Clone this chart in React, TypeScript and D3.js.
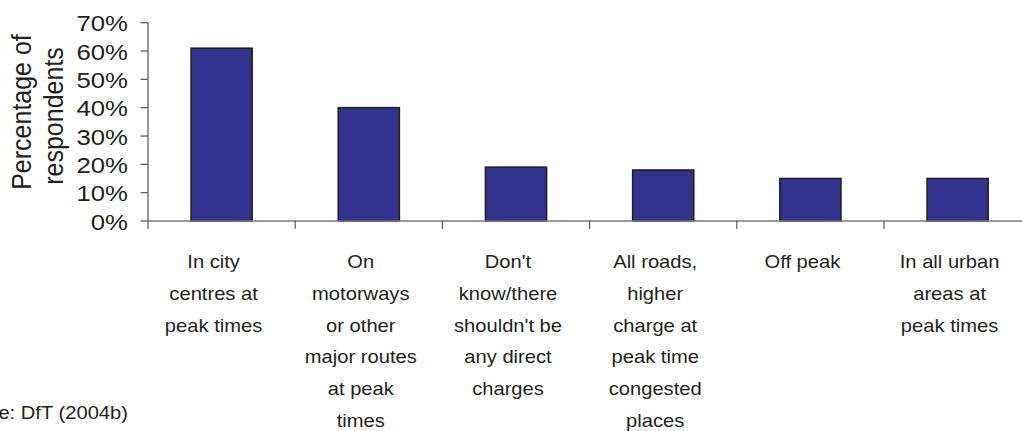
import React from "react";
import * as d3 from "d3";

const categories: string[][] = [
  ["In city", "centres at", "peak times"],
  ["On", "motorways", "or other", "major routes", "at peak", "times"],
  ["Don't", "know/there", "shouldn't be", "any direct", "charges"],
  ["All roads,", "higher", "charge at", "peak time", "congested", "places"],
  ["Off peak"],
  ["In all urban", "areas at", "peak times"],
];
const values: number[] = [0.61, 0.40, 0.19, 0.18, 0.15, 0.15];
const yTicks: number[] = [0, 0.1, 0.2, 0.3, 0.4, 0.5, 0.6, 0.7];
const yTitle: string[] = ["Percentage of", "respondents"];
const sourceText = "Source: DfT (2004b)";

const W = 1022;
const H = 431;
const SX = 1.12;
const FONT = "'Liberation Sans', Arial, Helvetica, sans-serif";
const TEXT = "#231f20";

export default function App() {
  const x0 = 148;
  const step = 147.2;
  const ids = categories.map((_, i) => String(i));
  const x = d3
    .scaleBand<string>()
    .domain(ids)
    .range([x0, x0 + step * ids.length])
    .paddingInner(0.585)
    .paddingOuter(0.2925);
  const y = d3.scaleLinear().domain([0, 0.7]).range([221, 22.7]);
  const fmt = d3.format(".0%");
  const y0 = y(0);

  return (
    <svg
      width={W}
      height={H}
      style={{ position: "absolute", left: 0, top: 0, display: "block", background: "#fff" }}
      fontFamily={FONT}
    >
      {/* bars */}
      {values.map((v, i) => (
        <rect
          key={i}
          x={x(ids[i])!}
          y={y(v)}
          width={x.bandwidth()}
          height={y0 - y(v)}
          fill="#31338f"
          stroke="#231f20"
          strokeWidth={1.6}
        />
      ))}
      {/* x axis */}
      <line x1={x0} x2={W} y1={y0} y2={y0} stroke="#7a7a7a" strokeWidth={1.3} />
      {ids.map((id, i) => {
        const xx = x0 + i * x.step();
        return <line key={i} x1={xx} x2={xx} y1={y0} y2={y0 + 8} stroke="#555" strokeWidth={1.2} />;
      })}
      {/* y axis */}
      <line x1={x0} x2={x0} y1={y(0.7)} y2={y0} stroke="#555" strokeWidth={1.2} />
      {yTicks.map((t, i) => (
        <g key={i}>
          <line x1={x0 - 7.5} x2={x0} y1={y(t)} y2={y(t)} stroke="#555" strokeWidth={1.2} />
          <text
            transform={`translate(128,${y(t) + 8.5}) scale(${SX},1)`}
            textAnchor="end"
            fontSize={23}
            fill={TEXT}
          >
            {fmt(t)}
          </text>
        </g>
      ))}
      {/* y title */}
      {yTitle.map((s, i) => (
        <text
          key={i}
          transform={`translate(${31 + i * 31.6},${i === 0 ? 112 : 116}) scale(${SX},1) rotate(-90)`}
          textAnchor="middle"
          fontSize={25}
          fill={TEXT}
        >
          {s}
        </text>
      ))}
      {/* category labels */}
      {categories.map((lines, i) => {
        const cx = x(ids[i])! + x.bandwidth() / 2 - 8;
        return lines.map((ln, j) => (
          <text
            key={`${i}-${j}`}
            transform={`translate(${cx},${268.3 + j * 31.7}) scale(${SX},1)`}
            textAnchor="middle"
            fontSize={18}
            fill={TEXT}
          >
            {ln}
          </text>
        ));
      })}
      {/* source */}
      <text
        transform={`translate(128,419) scale(${SX},1)`}
        textAnchor="end"
        fontSize={18}
        fill={TEXT}
      >
        {sourceText}
      </text>
    </svg>
  );
}
